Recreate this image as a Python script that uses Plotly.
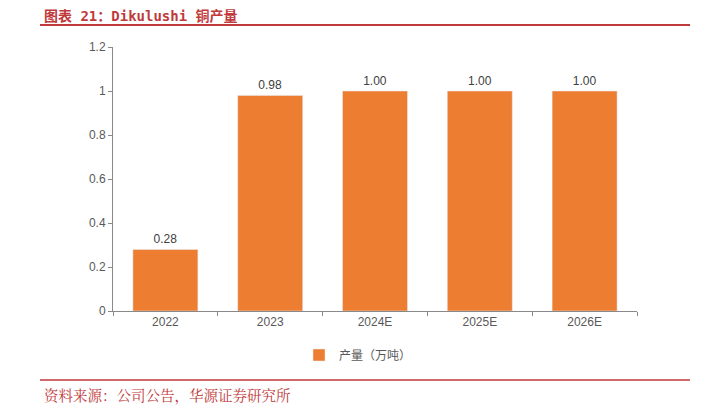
import plotly.graph_objects as go

# 数据
years = ["2022", "2023", "2024E", "2025E", "2026E"]
output = [0.28, 0.98, 1.00, 1.00, 1.00]
y_ticks = [0, 0.2, 0.4, 0.6, 0.8, 1, 1.2]
y_labels = ["0", "0.2", "0.4", "0.6", "0.8", "1", "1.2"]

ORANGE = "#ED7D31"
RED = "#C0393B"
GRAY = "#595959"
AXIS = "#898989"
LATIN = "Liberation Sans, Arial, sans-serif"
CJK = "Noto Sans CJK SC, sans-serif"

# page body adds an 8px offset, so work in shifted pixel coordinates
OFF = 8
W, H = 711 - OFF, 411 - OFF
L, R, T, B = 113 - OFF, 74, 47 - OFF, 100
pw, ph = W - L - R, H - T - B


def px_x(x):
    return (x - OFF - L) / pw


def px_y(y):
    return (H - B - (y - OFF)) / ph


fig = go.Figure()
fig.add_trace(go.Bar(
    x=years, y=output, name="产量（万吨）",
    marker_color=ORANGE,
    text=[f"{v:.2f}" for v in output], textposition="outside",
    textfont=dict(size=12, color="#404040", family=LATIN),
    cliponaxis=False,
))

fig.update_layout(
    width=W, height=H,
    margin=dict(l=L, r=R, t=T, b=B),
    paper_bgcolor="white", plot_bgcolor="white",
    font=dict(family=LATIN, size=12, color=GRAY),
    bargap=0.38,
    showlegend=True,
    legend=dict(orientation="h", x=px_x(358), xanchor="center", y=px_y(355), yanchor="middle",
                font=dict(size=12, color=GRAY, family=CJK), itemwidth=30),
    shapes=[
        dict(type="line", xref="paper", yref="paper", x0=px_x(40), x1=px_x(690),
             y0=px_y(25), y1=px_y(25), line=dict(color=RED, width=2)),
        dict(type="line", xref="paper", yref="paper", x0=px_x(40), x1=px_x(690),
             y0=px_y(380), y1=px_y(380), line=dict(color=RED, width=1.5)),
    ],
    annotations=[
        dict(text="<b>图表 21：Dikulushi 铜产量</b>", xref="paper", yref="paper",
             x=px_x(42), y=px_y(16), xanchor="left", yanchor="middle", showarrow=False,
             font=dict(size=14, color=RED, family="DejaVu Sans Mono, Noto Sans CJK SC, monospace")),
        dict(text="资料来源：公司公告，华源证券研究所", xref="paper", yref="paper",
             x=px_x(42), y=px_y(394), xanchor="left", yanchor="middle", showarrow=False,
             font=dict(size=14.5, color=RED, family="Noto Serif CJK SC, Noto Sans CJK SC, serif")),
    ],
)

fig.update_xaxes(showline=True, linecolor=AXIS, linewidth=1, ticks="outside",
                 tickson="boundaries", ticklen=4, tickcolor=AXIS,
                 tickfont=dict(size=12, color=GRAY), fixedrange=True)
fig.update_yaxes(range=[0, 1.2], tickvals=y_ticks, ticktext=y_labels, showgrid=False,
                 showline=True, linecolor=AXIS, linewidth=1, ticks="outside", ticklen=4,
                 tickcolor=AXIS, tickfont=dict(size=12, color=GRAY), zeroline=False)

fig.write_html("out.html")
